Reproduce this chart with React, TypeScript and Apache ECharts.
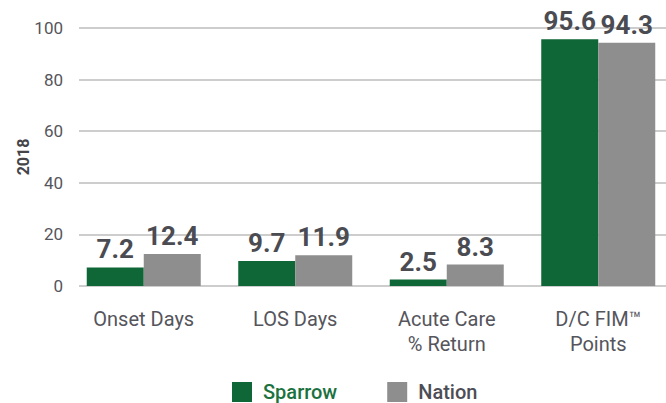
import React, { useEffect, useRef } from "react";
import * as echarts from "echarts";

const categories = ["Onset Days", "LOS Days", "Acute Care\n% Return", "D/C FIM™\nPoints"];
const sparrowValues = [7.2, 9.7, 2.5, 95.6];
const nationValues = [12.4, 11.9, 8.3, 94.3];
const yTicks = { min: 0, max: 100, interval: 20 };
const yAxisTitle = "2018";

const GREEN = "#0f6636";
const GRAY = "#8e8e8e";
const LABEL = "#4b4b52";
const FONT = "Roboto";

export default function App() {
  const ref = useRef<HTMLDivElement>(null);
  useEffect(() => {
    if (!ref.current) return;
    const chart = echarts.init(ref.current, null, { renderer: "svg" });
    const label = {
      show: true,
      position: "top",
      distance: 5,
      fontFamily: FONT,
      fontWeight: "bold",
      fontSize: 26,
      color: LABEL,
    };
    chart.setOption({
      animation: false,
      textStyle: { fontFamily: FONT },
      grid: [
        { left: 68, top: 28, width: 606, height: 258, outerBoundsMode: "none" },
        { left: 79, top: 28, right: 0, height: 258, outerBoundsMode: "none" },
      ],
      graphic: [
        {
          type: "text",
          x: 23,
          y: 157,
          rotation: Math.PI / 2,
          style: {
            text: yAxisTitle,
            fontFamily: FONT,
            fontSize: 16,
            fontWeight: "bold",
            fill: "#444449",
            align: "center",
            verticalAlign: "middle",
          },
        },
      ],
      legend: {
        top: 377,
        left: 227,
        itemWidth: 20,
        itemHeight: 20,
        itemGap: 50,
        icon: "rect",
        textStyle: {
          fontFamily: FONT,
          fontSize: 20,
          fontWeight: 500,
          lineHeight: 18,
          padding: [0, 0, 0, 6],
        },
        data: [
          { name: "Sparrow", textStyle: { color: "#1b7240" } },
          { name: "Nation", textStyle: { color: "#4d4d55" } },
        ],
      },
      xAxis: [
        {
          type: "category",
          gridIndex: 0,
          data: categories,
          axisLine: { show: false },
          axisTick: { show: false },
          axisLabel: {
            margin: 20,
            fontFamily: FONT,
            fontSize: 20,
            lineHeight: 25,
            color: "#55555c",
          },
        },
        { type: "value", gridIndex: 1, min: 0, max: 1, show: false },
      ],
      yAxis: [
        { type: "value", gridIndex: 0, ...yTicks, show: false },
        {
          type: "value",
          gridIndex: 1,
          ...yTicks,
          axisLine: { show: false },
          axisTick: { show: false },
          splitLine: { show: true, lineStyle: { color: "#bdbdbd", width: 1.5 } },
          axisLabel: { margin: 16, fontFamily: FONT, fontSize: 17, color: "#55555c" },
        },
      ],
      series: [
        {
          name: "Sparrow",
          type: "bar",
          xAxisIndex: 0,
          yAxisIndex: 0,
          data: sparrowValues,
          barWidth: 57,
          barGap: "0%",
          itemStyle: { color: GREEN },
          label,
          z: 3,
        },
        {
          name: "Nation",
          type: "bar",
          xAxisIndex: 0,
          yAxisIndex: 0,
          data: nationValues,
          barWidth: 57,
          barGap: "0%",
          itemStyle: { color: GRAY },
          label,
          z: 3,
        },
      ],
    });
    return () => chart.dispose();
  }, []);
  return (
    <div
      ref={ref}
      style={{ position: "fixed", left: 0, top: 0, width: 666, height: 403, background: "#fff" }}
    />
  );
}
